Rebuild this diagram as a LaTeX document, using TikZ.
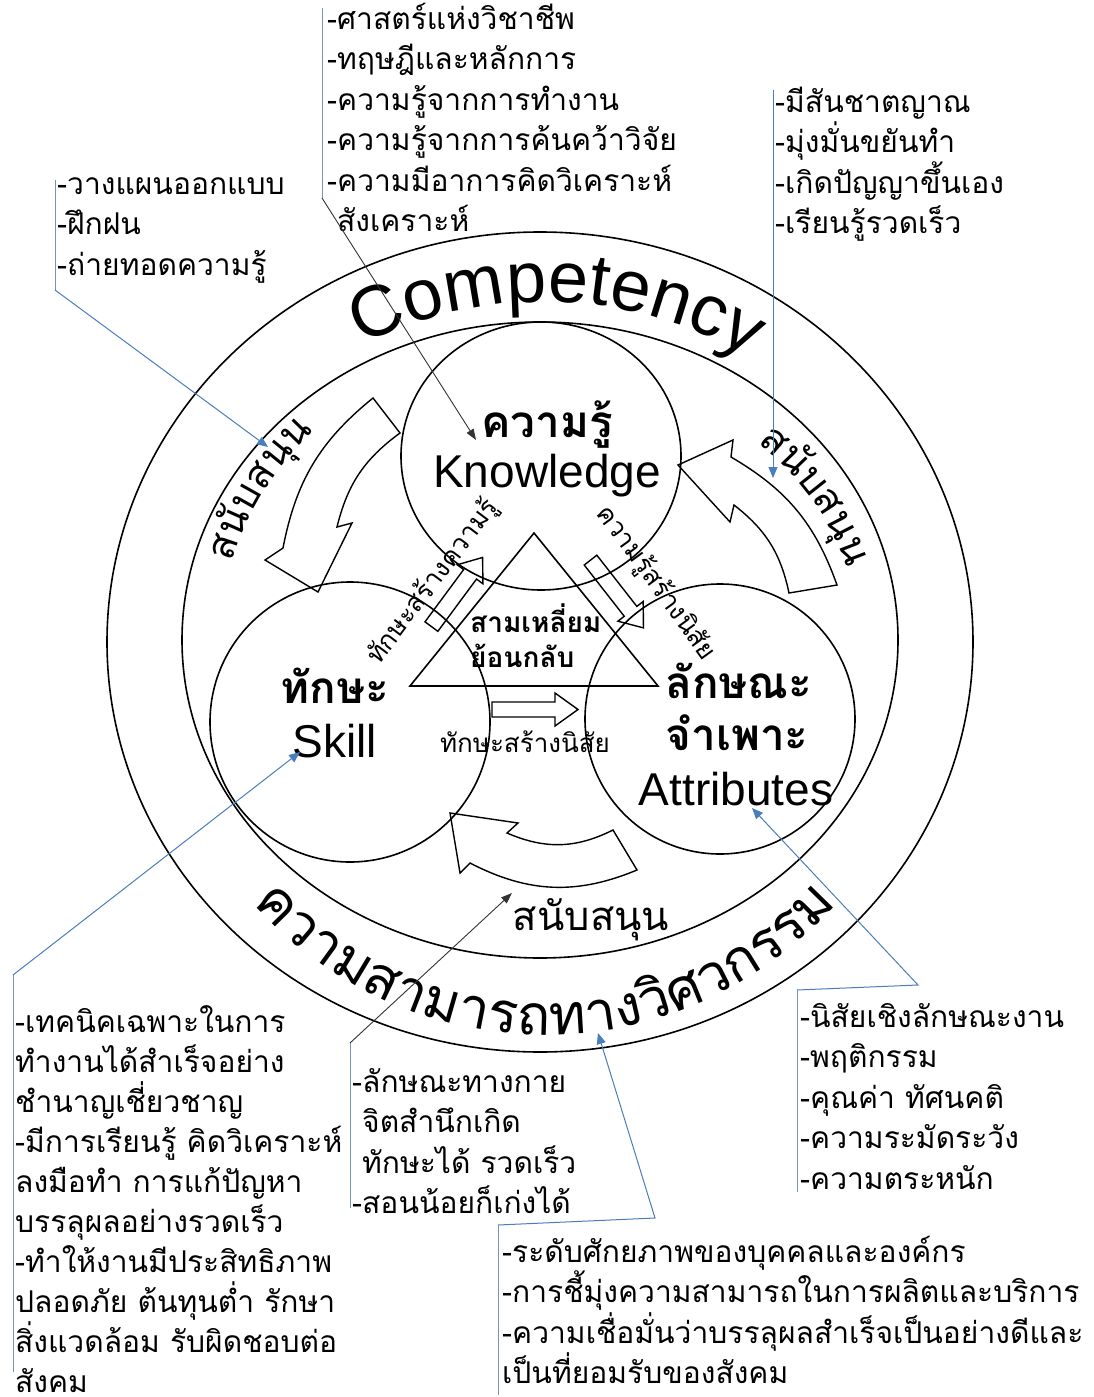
\documentclass[tikz,border=0pt]{standalone}
\usepackage{fontspec}
\newfontfamily\thai[Script=Thai]{Loma}
\newfontfamily\lat{Liberation Sans}
\usetikzlibrary{arrows.meta,decorations.text}
\definecolor{cblue}{RGB}{74,126,187}
\definecolor{cbar}{RGB}{120,146,186}
\newcommand\fs[1]{\fontsize{#1}{#1}\selectfont}
\newcommand\tstrut{\rule{0pt}{30pt}}
\tikzset{
  ring/.style={draw=black, line width=1.6pt},
  blk/.style={draw=black, line width=1.4pt, line join=miter},
  lst/.style={anchor=north west, align=left, inner sep=0pt, font=\thai\fontsize{30}{40.5}\selectfont},
  bar/.style={draw=cbar, line width=1pt},
  leadb/.style={draw=cblue, line width=1pt, -{Triangle[length=11pt,width=9pt]}},
  leadk/.style={draw=black!80, line width=0.9pt, -{Triangle[length=11pt,width=8pt]}},
  bigth/.style={font=\thai\bfseries\fs{44}, inner sep=0pt, anchor=base},
  biglat/.style={font=\lat\fs{46}, inner sep=0pt, anchor=base},
  midth/.style={font=\thai\fs{26}, inner sep=0pt},
  supth/.style={font=\thai\fs{40}, inner sep=0pt},
}
\begin{document}
\begin{tikzpicture}[x=1pt,y=-1pt]
\useasboundingbox (0,0) rectangle (1093,1397);
\fill[white] (0,0) rectangle (1093,1397);

% rings and circles
\draw[ring] (540,642) ellipse[x radius=433pt, y radius=410pt];
\draw[ring] (540,640) ellipse[x radius=358pt, y radius=318pt];
\draw[ring] (541,456) ellipse[x radius=140pt, y radius=134pt];
\draw[ring] (350,722) circle[radius=140pt];
\draw[ring] (720,719) circle[radius=135pt];

% triangle
\draw[ring, line join=miter] (534,533) -- (410,686) -- (658,686) -- cycle;

% straight block arrows
\draw[blk] (492,702) -- (555,702) -- (555,693) -- (578,709.5) -- (555,726) -- (555,717) -- (492,717) -- cycle;
\begin{scope}[shift={(457,592)}, rotate=53.5]
\draw[blk] (-43,-8) -- (22,-8) -- (22,-16) -- (43,0) -- (22,16) -- (22,8) -- (-43,8) -- cycle;
\end{scope}
\begin{scope}[shift={(617,594)}, rotate=-52]
\draw[blk] (-43,-8) -- (22,-8) -- (22,-16) -- (43,0) -- (22,16) -- (22,8) -- (-43,8) -- cycle;
\end{scope}

% curved support arrows
\draw[blk] (373,398) to[bend right=20] (283,548) -- (265,560) -- (318,592) -- (352,523) -- (337,527) to[bend left=20] (400,433) -- cycle;
\draw[blk] (678,465) -- (733,440) -- (731,457) to[bend left=20] (837,585) -- (789,593) to[bend right=20] (734,505) -- (730,522) -- cycle;
\draw[blk] (450,813) -- (518,823) -- (507,833) to[bend right=25] (613,830) -- (637,870) to[bend left=25] (470,863) -- (460,873) -- cycle;

% curved titles
\path[decorate, decoration={text along path, text align=center, text={|\lat\fs{72}|Competency}}]
  (545,640) ++(148:372pt and 338pt) arc[start angle=148, end angle=28, x radius=372pt, y radius=338pt];
\path[decorate, decoration={text along path, text align=center, text={|\thai\fs{56}|ความสามารถทาง{วิ}ศวกรรม}}]
  (545,640) ++(200:392pt and 395pt) arc[start angle=200, end angle=340, x radius=392pt, y radius=395pt];

% curved support labels
\path[decorate, decoration={text along path, text align=center, text={|\thai\fs{40}|ส{นั}บส{นุ}น}}]
  (540,640) ++(185.5:319pt and 296pt) arc[start angle=185.5, end angle=115.5, x radius=319pt, y radius=296pt];
\path[decorate, decoration={text along path, text align=center, text={|\thai\fs{40}|ส{นั}บส{นุ}น}}]
  (540,640) ++(65:318pt and 271pt) arc[start angle=65, end angle=-5, x radius=318pt, y radius=271pt];

% main labels
\node[bigth] (kth) at (547,437) {ความรู้};
\node[biglat] (ken) at (547,487) {Knowledge};
\node[bigth] (sth) at (335,703) {ทักษะ};
\node[biglat] (sen) at (335,757) {Skill};
\node[bigth] (ath1) at (739,698) {ลักษณะ};
\node[bigth] (ath2) at (737,750) {จำเพาะ};
\node[biglat] (aen) at (736,805) {Attributes};

% triangle text
\node[font=\thai\bfseries\fs{28}, anchor=base west, inner sep=0pt] (tri1) at (470,632) {สามเหลี่ยม};
\node[font=\thai\bfseries\fs{28}, anchor=base west, inner sep=0pt] (tri2) at (470,667) {ย้อนกลับ};

% arrow labels
\node[midth, rotate=53] (l1) at (433,582) {ทักษะสร้างความรู้};
\node[midth, rotate=-54] (l2) at (656,583) {ความรู้สร้างนิสัย};
\node[midth, anchor=base] (l3) at (525,752) {ทักษะสร้างนิสัย};

% bottom support label
\node[supth, anchor=base] (s3) at (591,930) {สนับสนุน};

% lists
\node[lst] (klist) at (327,-1) {\tstrut-ศาสตร์แห่งวิชาชีพ\\-ทฤษฎีและหลักการ\\-ความรู้จากการทำงาน\\-ความรู้จากการค้นคว้าวิจัย\\-ความมีอาการคิดวิเคราะห์\\\phantom{-}สังเคราะห์};
\node[lst] (dlist) at (57,164) {\tstrut-วางแผนออกแบบ\\-ฝึกฝน\\-ถ่ายทอดความรู้};
\node[lst] (ilist) at (775,82) {\tstrut-มีสันชาตญาณ\\-มุ่งมั่นขยันทำ\\-เกิดปัญญาขึ้นเอง\\-เรียนรู้รวดเร็ว};
\node[lst, font=\thai\fontsize{30}{40}\selectfont] (slist) at (15,1002) {\tstrut-เทคนิคเฉพาะในการ\\ทำงานได้สำเร็จอย่าง\\ชำนาญเชี่ยวชาญ\\-มีการเรียนรู้ คิดวิเคราะห์\\ลงมือทำ การแก้ปัญหา\\บรรลุผลอย่างรวดเร็ว\\-ทำให้งานมีประสิทธิภาพ\\ปลอดภัย ต้นทุนต่ำ รักษา\\สิ่งแวดล้อม รับผิดชอบต่อ\\\smash{สังคม}};
\node[lst] (mlist) at (352,1062) {\tstrut-ลักษณะทางกาย\\\phantom{-}จิตสำนึกเกิด\\\phantom{-}ทักษะได้ รวดเร็ว\\-สอนน้อยก็เก่งได้};
\node[lst] (alist) at (800,997) {\tstrut-นิสัยเชิงลักษณะงาน\\-พฤติกรรม\\-คุณค่า ทัศนคติ\\-ความระมัดระวัง\\-ความตระหนัก};
\node[lst] (elist) at (502,1232) {\tstrut-ระดับศักยภาพของบุคคลและองค์กร\\-การชี้มุ่งความสามารถในการผลิตและบริการ\\-ความเชื่อมั่นว่าบรรลุผลสำเร็จเป็นอย่างดีและ\\เป็นที่ยอมรับของสังคม};

% callout coordinates
\coordinate (kb1) at (322,8);   \coordinate (kb2) at (322,198); \coordinate (kt) at (476,440);
\coordinate (db1) at (55,180);  \coordinate (db2) at (55,290);  \coordinate (dt) at (268,447);
\coordinate (ib1) at (773,90);  \coordinate (it) at (773,478);
\coordinate (sb1) at (13,975);  \coordinate (sb2) at (13,1372); \coordinate (st) at (300,752);
\coordinate (mb1) at (350,1043);\coordinate (mb2) at (350,1208); \coordinate (mt) at (512,893);
\coordinate (ab1) at (797,990); \coordinate (ab2) at (797,1192); \coordinate (am) at (918,985); \coordinate (at) at (752,808);
\coordinate (eb1) at (498,1225);\coordinate (eb2) at (498,1395); \coordinate (em) at (655,1218); \coordinate (et) at (598,1033);

\draw[bar] (kb1) -- (kb2);
\draw[leadk] (kb2) -- (kt);
\draw[bar] (db1) -- (db2);
\draw[leadb] (db2) -- (dt);
\draw[leadb] (ib1) -- (it);
\draw[bar] (sb1) -- (sb2);
\draw[leadb] (sb1) -- (st);
\draw[bar] (mb1) -- (mb2);
\draw[leadk] (mb1) -- (mt);
\draw[bar] (ab1) -- (ab2);
\draw[leadb] (ab1) -- (am) -- (at);
\draw[bar] (eb1) -- (eb2);
\draw[leadb] (eb1) -- (em) -- (et);
\end{tikzpicture}
\end{document}
